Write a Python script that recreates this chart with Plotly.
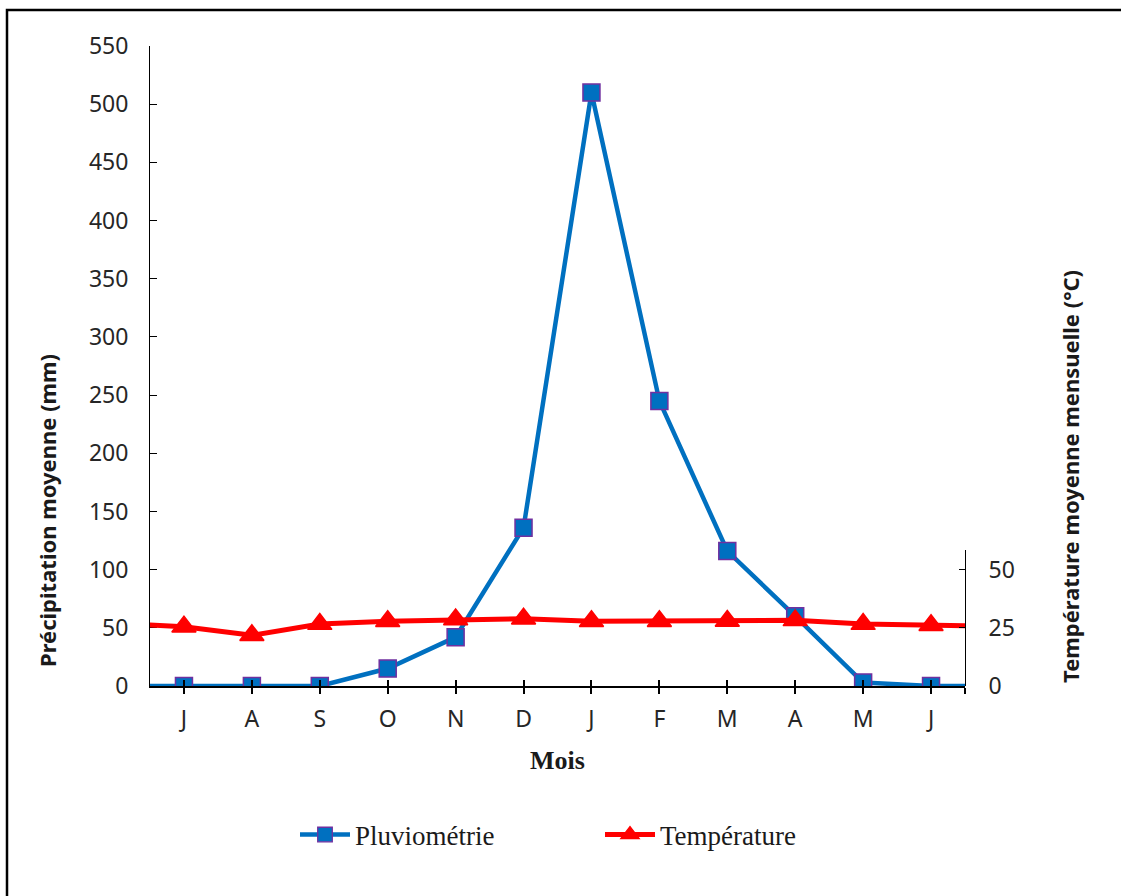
import plotly.graph_objects as go

# ---- data ----
months = ["J", "A", "S", "O", "N", "D", "J", "F", "M", "A", "M", "J"]
pluvio = [0, 0, 0, 15, 42, 136, 510, 245, 116, 60, 3, 0]          # mm
temp = [25.5, 21.8, 26.6, 27.8, 28.6, 28.9, 27.8, 27.8, 27.9, 28.2, 26.6, 26.1]  # °C
# neighbouring months (outside the visible axis, lines run to the plot edge)
pluvio_before, pluvio_after = 0, 0
temp_before, temp_after = 26.9, 25.7

left_ticks = list(range(0, 551, 50))
right_ticks = [0, 25, 50]

# ---- layout geometry (pixels) ----
W, H = 1121, 896
L, R, T, B = 150, 965, 46, 686
pw, ph = R - L, B - T

def px_x(p):
    return (p - L) / pw

def px_y(p):
    return (B - p) / ph

n = len(months)
xs = list(range(-1, n + 1))
p_ext = [pluvio_before] + pluvio + [pluvio_after]
t_ext = [temp_before] + temp + [temp_after]
msize_sq = [0] + [17] * n + [0]
mline_sq = [0] + [1.5] * n + [0]
msize_tr = [0] + [21] * n + [0]
mline_tr = [0] + [1.5] * n + [0]

TICKFONT = dict(family="Noto Sans, Open Sans, sans-serif", size=23, color="#262626")

fig = go.Figure()
fig.add_trace(go.Scatter(
    x=xs, y=p_ext, name="Pluviométrie", mode="lines+markers",
    line=dict(color="#0070C0", width=4.5),
    marker=dict(symbol="square", size=msize_sq, color="#0070C0", opacity=1,
                line=dict(color="#7030A0", width=mline_sq)),
    xaxis="x", yaxis="y", cliponaxis=True, hoverinfo="skip",
))
fig.add_trace(go.Scatter(
    x=xs, y=t_ext, name="Température", mode="lines+markers",
    line=dict(color="#FF0000", width=5),
    marker=dict(symbol="triangle-up", size=msize_tr, color="#FF0000", opacity=1,
                line=dict(color="#FF0000", width=mline_tr)),
    xaxis="x", yaxis="y2", cliponaxis=True, hoverinfo="skip",
))
# dummy trace to build overlay x axis for inner tick marks
fig.add_trace(go.Scatter(x=[None], y=[None], xaxis="x2", yaxis="y",
                         showlegend=False, hoverinfo="skip"))

tickvals_x = list(range(n)) + [n - 0.5]
ticktext_x = months + [""]

y2_top = 550  # pixel where the right axis stops
y2_dom = px_y(y2_top)
y2_max = (B - y2_top) / (ph / 275.0)  # same px/°C as 50 mm = 25 °C

fig.update_layout(
    width=W, height=H,
    margin=dict(l=L, r=W - R, t=T, b=H - B, pad=0),
    paper_bgcolor="white", plot_bgcolor="rgba(0,0,0,0)",
    showlegend=True,
    xaxis=dict(
        range=[-0.5, n - 0.5], domain=[0, 1], anchor="y",
        tickmode="array", tickvals=tickvals_x, ticktext=ticktext_x,
        ticks="outside", ticklen=6, tickwidth=1.5, tickcolor="black",
        showline=True, linecolor="black", linewidth=1.5,
        showgrid=False, zeroline=False,
        tickfont=TICKFONT, ticklabelstandoff=6,
    ),
    xaxis2=dict(
        range=[-0.5, n - 0.5], overlaying="x", anchor="y",
        tickmode="array", tickvals=tickvals_x, ticktext=[""] * len(tickvals_x),
        ticks="inside", ticklen=6, tickwidth=1.5, tickcolor="black",
        showline=False, showgrid=False, zeroline=False, showticklabels=False,
    ),
    yaxis=dict(
        range=[0, 550], domain=[0, 1], anchor="x",
        tickmode="array", tickvals=left_ticks,
        ticks="inside", ticklen=7, tickwidth=1, tickcolor="black",
        showline=True, linecolor="black", linewidth=1,
        showgrid=False, zeroline=False,
        tickfont=TICKFONT, ticklabelstandoff=16,
    ),
    yaxis2=dict(
        range=[0, y2_max], domain=[0, y2_dom], anchor="x", side="right",
        tickmode="array", tickvals=right_ticks,
        ticks="inside", ticklen=6, tickwidth=1, tickcolor="black",
        showline=True, linecolor="black", linewidth=1,
        showgrid=False, zeroline=False,
        tickfont=TICKFONT, ticklabelstandoff=18,
    ),
    legend=dict(
        orientation="h", x=px_x(295), y=px_y(835), xanchor="left", yanchor="middle",
        font=dict(family="Liberation Serif, Times New Roman, serif", size=27, color="#1a1a1a"),
        entrywidth=240, itemwidth=50, bgcolor="rgba(0,0,0,0)",
    ),
    annotations=[
        dict(text="<b>Précipitation moyenne (mm)</b>", textangle=-90,
             x=px_x(47), y=px_y(511), xref="paper", yref="paper",
             showarrow=False, xanchor="center", yanchor="middle",
             font=dict(family="Noto Sans, Open Sans, sans-serif", size=22, color="#1a1a1a")),
        dict(text="<b>Température moyenne mensuelle (°C)</b>", textangle=-90,
             x=px_x(1070), y=px_y(477), xref="paper", yref="paper",
             showarrow=False, xanchor="center", yanchor="middle",
             font=dict(family="Noto Sans, Open Sans, sans-serif", size=22, color="#1a1a1a")),
        dict(text="<b>Mois</b>",
             x=px_x(557), y=px_y(760), xref="paper", yref="paper",
             showarrow=False, xanchor="center", yanchor="middle",
             font=dict(family="Liberation Serif, Times New Roman, serif", size=26, color="#1a1a1a")),
    ],
    shapes=[
        dict(type="rect", xref="paper", yref="paper",
             x0=px_x(7), x1=px_x(1135), y0=px_y(910), y1=px_y(10),
             line=dict(color="black", width=2.5), fillcolor="rgba(0,0,0,0)", layer="below"),
    ],
)

fig.write_html("out.html")
